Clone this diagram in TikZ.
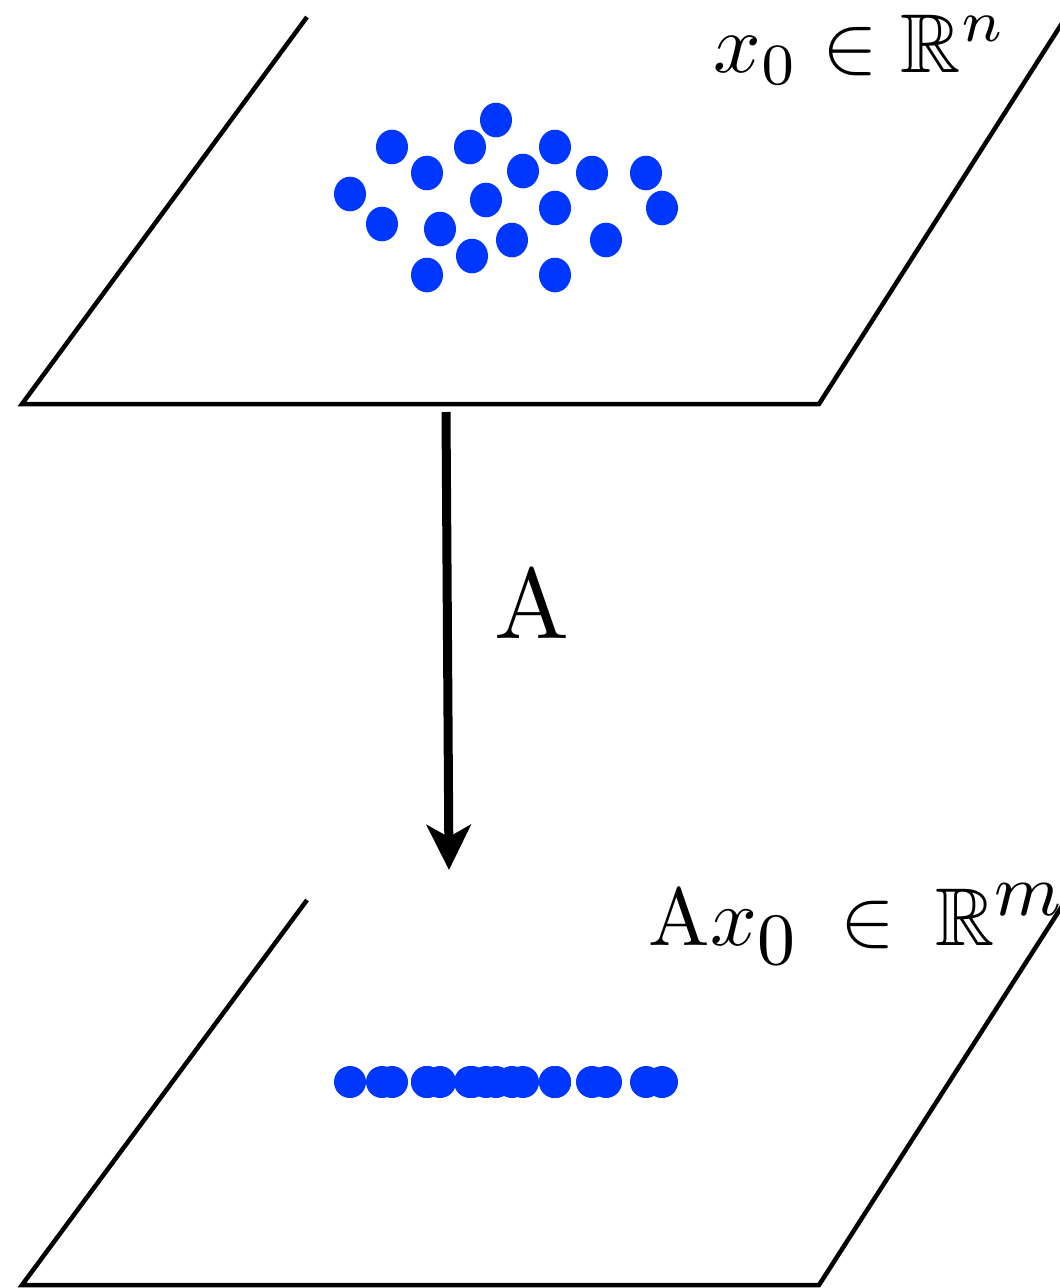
\documentclass[tikz,border=0pt]{standalone}
\usepackage{amsmath,amssymb}
\usetikzlibrary{arrows.meta}
\definecolor{dotblue}{RGB}{0,55,255}
\newcommand{\bigidx}[1]{\hbox{\fontsize{9}{10}\selectfont$#1$}}

\begin{document}
\begin{tikzpicture}[x=1pt, y=-1pt,
  plane/.style={line width=4.5pt, line join=miter},
  maparrow/.style={-{Stealth[length=45pt, width=44pt, inset=12pt]}, line width=9pt},
  lbl/.style={anchor=base west, inner sep=0pt}
]
\useasboundingbox (0,0) rectangle (1060,1288);
\clip (0,0) rectangle (1060,1288);
% top plane and its point cloud
\draw[plane] (307,17) -- (22,404) -- (819,404) -- (1066,17);
\node[lbl, scale=8.35] (xn) at (712,72) {$x_0 \in \mathbb{R}^n$};
% bottom plane and the projected points
\draw[plane] (307,900) -- (22,1285) -- (819,1285) -- (1066,900);
\node[lbl, scale=8.2] (axm) at (647,945)
  {$\mathrm{A}x_{\bigidx{0}} \mskip4mu\in\mskip4mu \mathbb{R}^{\bigidx{m}}$};
\foreach \px/\py in {496/120, 392/147, 470/147, 555/147, 427/173, 523/171,
    592/173, 646/173, 350/194, 486/200, 555/208, 662/208, 382/224, 440/229,
    512/240, 606/240, 472/256, 427/275, 555/275} {
  \fill[dotblue] (\px,\py) ellipse [x radius=16, y radius=17.3];
  \fill[dotblue] (\px,1082) circle [radius=16];
}
% the map
\coordinate (src) at (446,412);
\coordinate (dst) at (449,870);
\draw[maparrow] (src) -- (dst);
\node[lbl, scale=10] (map) at (492,638) {$\mathrm{A}$};
\end{tikzpicture}
\end{document}
